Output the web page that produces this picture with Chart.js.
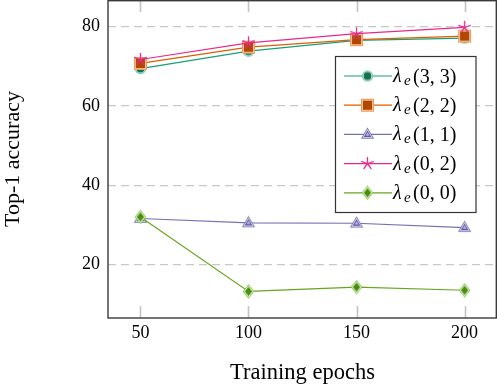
<!DOCTYPE html>
<html><head><meta charset="utf-8">
<script src="https://cdn.jsdelivr.net/npm/chart.js@4/dist/chart.umd.min.js"></script>
<style>html,body{margin:0;padding:0;background:#fff}#wrap{width:498px;height:390px}</style>
</head><body><div id="wrap"><canvas id="c" width="498" height="390"></canvas></div>
<script>
const epochs = [50, 100, 150, 200];
const acc33 = [69.4, 73.8, 76.5, 77.1];
const acc22 = [70.7, 74.8, 76.7, 77.6];
const acc11 = [31.6, 30.5, 30.4, 29.3];
const acc02 = [71.7, 75.9, 78.2, 79.8];
const acc00 = [32.0, 13.2, 14.3, 13.5];
const seriesLabels = ['(3, 3)', '(2, 2)', '(1, 1)', '(0, 2)', '(0, 0)'];
const xTicks = [50, 100, 150, 200];
const yTicks = [20, 40, 60, 80];

const SERIF = '"Liberation Serif", "DejaVu Serif", serif';

function mk(draw) {
  const c = document.createElement('canvas');
  c.width = 15; c.height = 15;
  const g = c.getContext('2d');
  draw(g, 7.5, 7.5);
  return c;
}
const mCircle = mk((g, x, y) => {
  g.beginPath(); g.arc(x, y, 5.6, 0, Math.PI * 2);
  g.fillStyle = '#6cc8aa'; g.fill();
  g.beginPath(); g.arc(x, y, 4.5, 0, Math.PI * 2);
  g.fillStyle = '#ffffff'; g.fill();
  g.beginPath(); g.arc(x, y, 3.9, 0, Math.PI * 2);
  g.fillStyle = '#137256'; g.fill();
});
const mSquare = mk((g, x, y) => {
  g.fillStyle = '#f39a55'; g.fillRect(x - 6.5, y - 6.5, 13, 13);
  g.fillStyle = '#fde3cc'; g.fillRect(x - 5.4, y - 5.4, 10.8, 10.8);
  g.fillStyle = '#b04800'; g.fillRect(x - 4.7, y - 4.7, 9.4, 9.4);
});
const mTri = mk((g, x, y) => {
  const tri = (r) => { g.beginPath(); g.moveTo(x, y - r); g.lineTo(x + r * 0.95, y + r * 0.6); g.lineTo(x - r * 0.95, y + r * 0.6); g.closePath(); };
  tri(7); g.fillStyle = '#7570b3'; g.fill();
  tri(5.4); g.fillStyle = '#e4e2f4'; g.fill();
  tri(4.0); g.fillStyle = '#5b56a0'; g.fill();
  tri(2.2); g.fillStyle = '#b6b2dc'; g.fill();
});
const mStar = mk((g, x, y) => {
  g.strokeStyle = '#e7298a'; g.lineWidth = 1.3;
  g.beginPath();
  for (let i = 0; i < 5; i++) {
    const a = -Math.PI / 2 + i * 2 * Math.PI / 5;
    g.moveTo(x, y); g.lineTo(x + 6.6 * Math.cos(a), y + 6.6 * Math.sin(a));
  }
  g.stroke();
});
const mDiam = mk((g, x, y) => {
  const d = (r) => { g.beginPath(); g.moveTo(x, y - r); g.lineTo(x + r * 0.8, y); g.lineTo(x, y + r); g.lineTo(x - r * 0.8, y); g.closePath(); };
  d(7.3); g.fillStyle = '#8ccc55'; g.fill();
  d(5.8); g.fillStyle = '#e6f4d8'; g.fill();
  d(4.6); g.fillStyle = '#4d8c12'; g.fill();
});

const colors = ['#1b9e77', '#d95f02', '#7570b3', '#e7298a', '#66a61e'];
const markers = [mCircle, mSquare, mTri, mStar, mDiam];
const allData = [acc33, acc22, acc11, acc02, acc00];

const datasets = allData.map((arr, i) => ({
  label: seriesLabels[i],
  data: epochs.map((e, j) => ({ x: e, y: arr[j] })),
  borderColor: colors[i],
  backgroundColor: colors[i],
  borderWidth: 1.2,
  pointStyle: markers[i],
  pointRadius: 6,
  order: 5 - i,
  tension: 0,
  clip: false
}));

const decor = {
  id: 'decor',
  beforeDatasetsDraw(chart) {
    const { ctx, chartArea: a, scales } = chart;
    ctx.save();
    ctx.strokeStyle = '#c4c4c4'; ctx.lineWidth = 1.6;
    xTicks.forEach(v => {
      const px = Math.round(scales.x.getPixelForValue(v)) + 0.5;
      ctx.beginPath();
      ctx.moveTo(px, a.top); ctx.lineTo(px, a.top + 12);
      ctx.moveTo(px, a.bottom - 12); ctx.lineTo(px, a.bottom);
      ctx.stroke();
    });
    ctx.restore();
  },
  afterDraw(chart) {
    const { ctx, chartArea: a } = chart;
    ctx.save();
    ctx.strokeStyle = '#3a3a3a'; ctx.lineWidth = 1.4;
    ctx.strokeRect(a.left, a.top + 0.7, a.right - a.left - 0.7, a.bottom - a.top - 0.7);
    // legend
    const bx = 335.5, by = 56.5, bw = 140.5, bh = 156;
    ctx.fillStyle = '#fff'; ctx.fillRect(bx, by, bw, bh);
    ctx.strokeStyle = '#333'; ctx.lineWidth = 1.2; ctx.strokeRect(bx, by, bw, bh);
    for (let i = 0; i < 5; i++) {
      const cy = 76 + i * 29.2;
      ctx.strokeStyle = colors[i]; ctx.lineWidth = 1.2;
      ctx.beginPath(); ctx.moveTo(344, cy); ctx.lineTo(392, cy); ctx.stroke();
      ctx.drawImage(markers[i], 367.5 - 7.5, cy - 7.5);
      ctx.fillStyle = '#000';
      ctx.textBaseline = 'alphabetic';
      ctx.font = 'italic 20px ' + SERIF;
      ctx.fillText('λ', 393, cy + 6);
      ctx.font = 'italic 15px ' + SERIF;
      ctx.fillText('e', 404, cy + 9);
      ctx.font = '20px ' + SERIF;
      ctx.fillText(seriesLabels[i], 413, cy + 6.5);
    }
    ctx.restore();
  }
};

new Chart(document.getElementById('c'), {
  type: 'line',
  data: { datasets },
  options: {
    responsive: false,
    devicePixelRatio: 1,
    animation: false,
    layout: { autoPadding: false, padding: { top: 0, right: 1, left: 0, bottom: 0 } },
    plugins: { legend: { display: false }, tooltip: { enabled: false } },
    scales: {
      x: {
        type: 'linear', min: 35, max: 215,
        afterBuildTicks: s => { s.ticks = xTicks.map(v => ({ value: v })); },
        afterFit: s => { s.height = 72; s.paddingLeft = 0; s.paddingRight = 0; },
        grid: { display: false, drawTicks: false },
        border: { display: false },
        ticks: { color: '#000', font: { family: SERIF, size: 18 }, padding: 4, maxRotation: 0 },
        title: { display: true, text: 'Training epochs', color: '#000', font: { family: SERIF, size: 22.5 }, padding: { top: 0, bottom: 3 } }
      },
      y: {
        type: 'linear', min: 6.5, max: 86.7,
        afterBuildTicks: s => { s.ticks = yTicks.map(v => ({ value: v })); },
        afterFit: s => { s.width = 108; s.paddingTop = 0; s.paddingBottom = 0; },
        grid: { color: '#c8c8c8', lineWidth: 1.2, drawTicks: false },
        border: { display: false, dash: [8, 5] },
        ticks: { color: '#000', font: { family: SERIF, size: 18 }, padding: 8 },
        title: { display: true, text: 'Top-1 accuracy', color: '#000', font: { family: SERIF, size: 22 }, padding: { top: 0, bottom: 0 } }
      }
    }
  },
  plugins: [decor]
});
</script>
</body></html>
